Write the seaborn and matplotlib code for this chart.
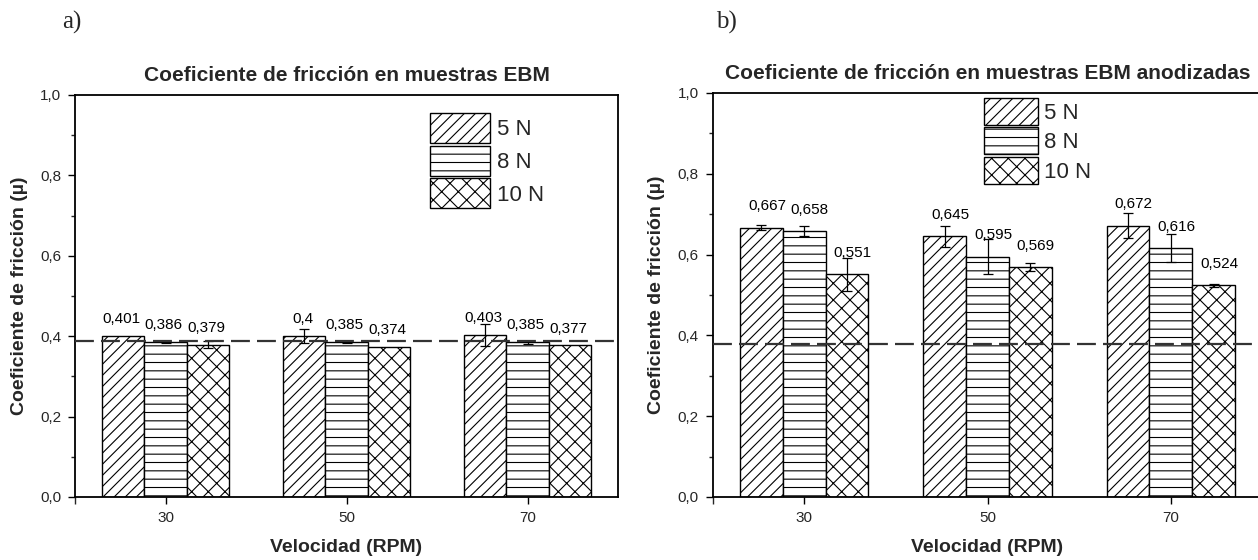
import numpy as np
import pandas as pd
import matplotlib
matplotlib.use("Agg")
import matplotlib.pyplot as plt
import seaborn as sns
from matplotlib.patches import Patch
from matplotlib.ticker import FuncFormatter, MultipleLocator, FixedLocator

# ---------------- data ----------------
velocidades = [30, 50, 70]
cargas = ["5 N", "8 N", "10 N"]

# panel a) EBM
mu_a_5 = [0.401, 0.400, 0.403]
mu_a_8 = [0.386, 0.385, 0.385]
mu_a_10 = [0.379, 0.374, 0.377]
err_a_5 = [0.0, 0.018, 0.027]
err_a_8 = [0.002, 0.001, 0.004]
err_a_10 = [0.009, 0.0, 0.0]
ref_a = 0.387

# panel b) EBM anodizadas
mu_b_5 = [0.667, 0.645, 0.672]
mu_b_8 = [0.658, 0.595, 0.616]
mu_b_10 = [0.551, 0.569, 0.524]
err_b_5 = [0.006, 0.025, 0.030]
err_b_8 = [0.013, 0.044, 0.034]
err_b_10 = [0.040, 0.010, 0.003]
ref_b = 0.378

titulo_a = "Coeficiente de fricción en muestras EBM"
titulo_b = "Coeficiente de fricción en muestras EBM anodizadas"
xlabel = "Velocidad (RPM)"
ylabel = "Coeficiente de fricción (µ)"
hatches = ["///", "--", "xx"]

sns.set_style("white")
plt.rcParams["font.family"] = ["Liberation Sans", "DejaVu Sans"]
plt.rcParams["hatch.linewidth"] = 0.8
plt.rcParams["hatch.color"] = "#222222"


def make_df(m5, m8, m10):
    rows = []
    for c, vals in zip(cargas, [m5, m8, m10]):
        for v, m in zip(velocidades, vals):
            rows.append({"Velocidad": v, "Carga": c, "mu": m})
    return pd.DataFrame(rows)


def comma(v, pos=None):
    return f"{v:.1f}".replace(".", ",")


fig = plt.figure(figsize=(12.58, 5.6), dpi=100)
ax_a = fig.add_axes([75 / 1258, 1 - 497 / 560, 543 / 1258, 402 / 560])
ax_b = fig.add_axes([712.5 / 1258, 1 - 497 / 560, 550 / 1258, 404 / 560])

panels = [
    (ax_a, make_df(mu_a_5, mu_a_8, mu_a_10), [err_a_5, err_a_8, err_a_10], ref_a,
     titulo_a, -0.2, 0.032, (0.654, 0.955), 2.7, 1.70),
    (ax_b, make_df(mu_b_5, mu_b_8, mu_b_10), [err_b_5, err_b_8, err_b_10], ref_b,
     titulo_b, 0.6, 0.043, (0.494, 0.988), 2.4, 1.49),
]

for ax, df, errs, ref, title, dx, dy, legpos, hl, hh in panels:
    sns.barplot(data=df, x="Velocidad", y="mu", hue="Carga", hue_order=cargas,
                native_scale=True, width=0.7, errorbar=None,
                palette=["white"] * 3, edgecolor="black", linewidth=1.0,
                legend=False, ax=ax, saturation=1)
    for cont, h, e in zip(ax.containers, hatches, errs):
        xs, ys, es = [], [], []
        for bar, ee in zip(cont, e):
            bar.set_hatch(h)
            bar.set_facecolor("white")
            bar.set_edgecolor("black")
            xc = bar.get_x() + bar.get_width() / 2
            yv = bar.get_height()
            if ee > 0:
                xs.append(xc); ys.append(yv); es.append(ee)
            lab = f"{yv:g}".replace(".", ",")
            ax.text(xc + dx, yv + dy, lab, ha="center", va="baseline",
                    fontsize=11, color="black")
        if xs:
            ax.errorbar(xs, ys, yerr=es, fmt="none", ecolor="black",
                        elinewidth=0.9, capsize=3.5, capthick=0.9, zorder=5)

    ax.axhline(ref, color="#333333", lw=1.6, ls=(0, (8.5, 3.2)), zorder=6)

    ax.set_xlim(20, 80)
    ax.set_ylim(0, 1.0)
    ax.set_xticks(velocidades)
    ax.set_xticklabels([str(v) for v in velocidades])
    ax.xaxis.set_minor_locator(FixedLocator([20]))
    ax.yaxis.set_major_locator(MultipleLocator(0.2))
    ax.yaxis.set_minor_locator(MultipleLocator(0.1))
    ax.yaxis.set_major_formatter(FuncFormatter(comma))
    ax.tick_params(axis="both", which="major", direction="out", length=5,
                   width=1.0, labelsize=11, pad=5, color="black",
                   bottom=True, left=True, top=False, right=False)
    ax.tick_params(axis="y", which="minor", direction="out", length=3,
                   width=1.0, left=True, right=False)
    ax.tick_params(axis="x", which="minor", direction="out", length=5,
                   width=1.0, bottom=True, top=False)
    for s in ax.spines.values():
        s.set_visible(True)
        s.set_color("black")
        s.set_linewidth(1.3)

    ax.set_title(title, fontsize=15, fontweight="bold", pad=10)
    ax.set_xlabel(xlabel, fontsize=14, fontweight="bold")
    ax.set_ylabel(ylabel, fontsize=14, fontweight="bold")
    ax.xaxis.set_label_coords(0.5, -0.105)
    ax.yaxis.set_label_coords(-0.087, 0.5)

    handles = [Patch(facecolor="white", edgecolor="black", hatch=h, lw=1.0)
               for h in hatches]
    ax.legend(handles, cargas, loc="upper left", bbox_to_anchor=legpos,
              frameon=False, fontsize=16, handlelength=hl, handleheight=hh,
              labelspacing=0.12, handletextpad=0.3, borderpad=0,
              borderaxespad=0)

fig.text(62 / 1258, 1 - 22 / 560, "a)", fontsize=18, family="Liberation Serif",
         ha="left", va="center")
fig.text(716 / 1258, 1 - 22 / 560, "b)", fontsize=18, family="Liberation Serif",
         ha="left", va="center")

fig.savefig("out.png", dpi=100)
